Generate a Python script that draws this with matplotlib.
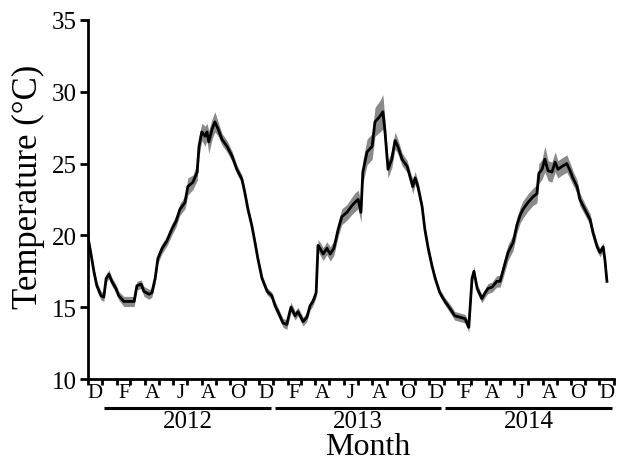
import matplotlib
matplotlib.use('Agg')
import matplotlib.pyplot as plt
import numpy as np
import pandas as pd

plt.rcParams['font.family'] = ['Liberation Serif', 'DejaVu Serif']

# days since 1 Dec 2011, daily mean temperature and half-range of the grey band
start = pd.Timestamp('2011-12-01')
day = [0, 6, 13, 19, 28, 34, 39, 45, 51, 60, 66, 77,
       88, 99, 105, 114, 120, 131, 137, 144, 150, 159, 169, 178,
       189, 197, 208, 214, 225, 234, 238, 244, 251, 255, 259, 266,
       272, 279, 287, 298, 309, 319, 330, 336, 343, 351, 358, 364,
       373, 384, 394, 401, 407, 418, 426, 435, 444, 450, 461, 469,
       476, 482, 489, 493, 497, 504, 512, 519, 527, 536, 544, 555,
       564, 572, 579, 585, 589, 598, 609, 615, 626, 632, 636, 643,
       651, 658, 664, 673, 684, 690, 696, 701, 707, 716, 722, 729,
       737, 744, 754, 765, 776, 786, 797, 808, 816, 823, 827, 834,
       844, 851, 857, 866, 876, 883, 889, 900, 911, 919, 926, 932,
       943, 954, 962, 966, 973, 979, 986, 994, 1001, 1007, 1016, 1026,
       1033, 1039, 1048, 1054, 1065, 1076, 1082, 1091, 1097, 1104, 1108, 1112]
temp = [19.9, 18.8, 17.45, 16.5, 15.8, 15.7, 17.0, 17.3, 16.8, 16.3, 15.8, 15.4,
        15.4, 15.4, 16.5, 16.6, 16.1, 15.9, 16.0, 17.0, 18.4, 19.1, 19.6, 20.3,
        21.0, 21.8, 22.3, 23.4, 23.7, 24.4, 26.2, 27.2, 26.9, 27.2, 26.5, 27.4,
        27.9, 27.4, 26.7, 26.2, 25.5, 24.6, 23.9, 23.0, 21.8, 20.7, 19.5, 18.4,
        17.0, 16.1, 15.8, 15.1, 14.7, 13.9, 13.8, 15.0, 14.4, 14.7, 14.0, 14.3,
        15.1, 15.4, 16.0, 19.3, 19.1, 18.7, 19.1, 18.7, 19.1, 20.4, 21.3, 21.6,
        22.0, 22.3, 22.5, 21.6, 24.4, 25.8, 26.2, 27.9, 28.3, 28.6, 27.4, 24.6,
        25.3, 26.6, 26.2, 25.3, 24.8, 24.1, 23.4, 24.0, 23.4, 22.0, 20.4, 19.1,
        17.9, 17.0, 16.0, 15.4, 14.9, 14.4, 14.3, 14.2, 13.6, 17.0, 17.5, 16.3,
        15.6, 16.0, 16.3, 16.4, 16.8, 16.8, 17.5, 18.8, 19.5, 20.7, 21.4, 21.8,
        22.3, 22.7, 22.9, 24.3, 24.6, 25.3, 24.5, 24.4, 25.1, 24.6, 24.8, 25.0,
        24.5, 24.0, 23.4, 22.5, 21.8, 21.1, 20.2, 19.2, 18.8, 19.2, 18.2, 16.8]
spread = [0.2, 0.25, 0.25, 0.3, 0.3, 0.3, 0.3, 0.3, 0.3, 0.3, 0.3, 0.35,
          0.35, 0.35, 0.3, 0.3, 0.35, 0.35, 0.3, 0.35, 0.35, 0.35, 0.35, 0.4,
          0.4, 0.4, 0.45, 0.6, 0.5, 0.6, 0.7, 0.6, 0.7, 0.6, 0.8, 0.7,
          0.7, 0.5, 0.4, 0.4, 0.35, 0.3, 0.3, 0.3, 0.25, 0.25, 0.25, 0.25,
          0.25, 0.25, 0.25, 0.3, 0.3, 0.3, 0.35, 0.35, 0.3, 0.3, 0.3, 0.3,
          0.3, 0.3, 0.3, 0.4, 0.45, 0.45, 0.45, 0.5, 0.5, 0.5, 0.55, 0.55,
          0.6, 0.65, 0.65, 0.7, 0.8, 0.9, 0.9, 1.0, 1.1, 1.2, 0.8, 0.6,
          0.6, 0.6, 0.5, 0.45, 0.4, 0.4, 0.5, 0.45, 0.4, 0.3, 0.25, 0.25,
          0.25, 0.25, 0.25, 0.25, 0.3, 0.3, 0.3, 0.3, 0.35, 0.3, 0.3, 0.3,
          0.3, 0.3, 0.35, 0.35, 0.4, 0.4, 0.5, 0.55, 0.55, 0.55, 0.55, 0.6,
          0.6, 0.6, 0.65, 0.7, 0.7, 0.9, 0.7, 0.7, 0.7, 0.6, 0.6, 0.6,
          0.55, 0.5, 0.45, 0.45, 0.4, 0.4, 0.35, 0.3, 0.3, 0.3, 0.25, 0.2]

month_letters = ['D', 'F', 'A', 'J', 'A', 'O', 'D', 'F', 'A', 'J', 'A', 'O',
                 'D', 'F', 'A', 'J', 'A', 'O', 'D']
years = ['2012', '2013', '2014']
yticks = [10, 15, 20, 25, 30, 35]

dates = start + pd.to_timedelta(day, unit='D')
temp = np.array(temp)
spread = np.array(spread)

fig = plt.figure(figsize=(6.28, 4.64), dpi=100)
ax = fig.add_axes([0.140, 0.181, 0.8376, 0.774])

ax.fill_between(dates, temp - spread, temp + spread, color='#8a8a8a', lw=0)
ax.plot(dates, temp, color='black', lw=2.0)

ax.set_xlim(start, pd.Timestamp('2015-01-01'))
ax.set_ylim(10, 35)
ax.set_yticks(yticks)
ax.tick_params(axis='y', labelsize=18, length=6, width=2, pad=2)

# month boundaries as small ticks, labels in the middle of every second month
ax.set_xticks(pd.date_range('2011-12-01', '2015-01-01', freq='MS'), minor=True)
ax.set_xticks(pd.date_range('2011-12-01', '2014-12-01', freq='2MS') + pd.Timedelta(days=15))
ax.set_xticklabels(month_letters)
ax.tick_params(axis='x', which='major', length=0, labelsize=15, pad=3)
ax.tick_params(axis='x', which='minor', length=4, width=2)

for s in ['top', 'right']:
    ax.spines[s].set_visible(False)
for s in ['left', 'bottom']:
    ax.spines[s].set_linewidth(2)

# year bars under the month letters
for i, yr in enumerate(years):
    y0 = pd.Timestamp(f'{yr}-01-01') + pd.Timedelta(days=4)
    y1 = pd.Timestamp(f'{yr}-12-31') - pd.Timedelta(days=4)
    ax.plot([y0, y1], [-0.081, -0.081], transform=ax.get_xaxis_transform(),
            color='black', lw=2.2, clip_on=False, solid_capstyle='butt')
    ax.text(pd.Timestamp(f'{yr}-07-02'), -0.117, yr, transform=ax.get_xaxis_transform(),
            ha='center', va='center', fontsize=18)

fig.text(368 / 628, 1 - 448 / 464, 'Month', ha='center', va='center', fontsize=23)
fig.text(28 / 628, 1 - 187 / 464, 'Temperature (°C)', ha='center', va='center',
         rotation=90, fontsize=25)

fig.savefig('out.png', dpi=100)
